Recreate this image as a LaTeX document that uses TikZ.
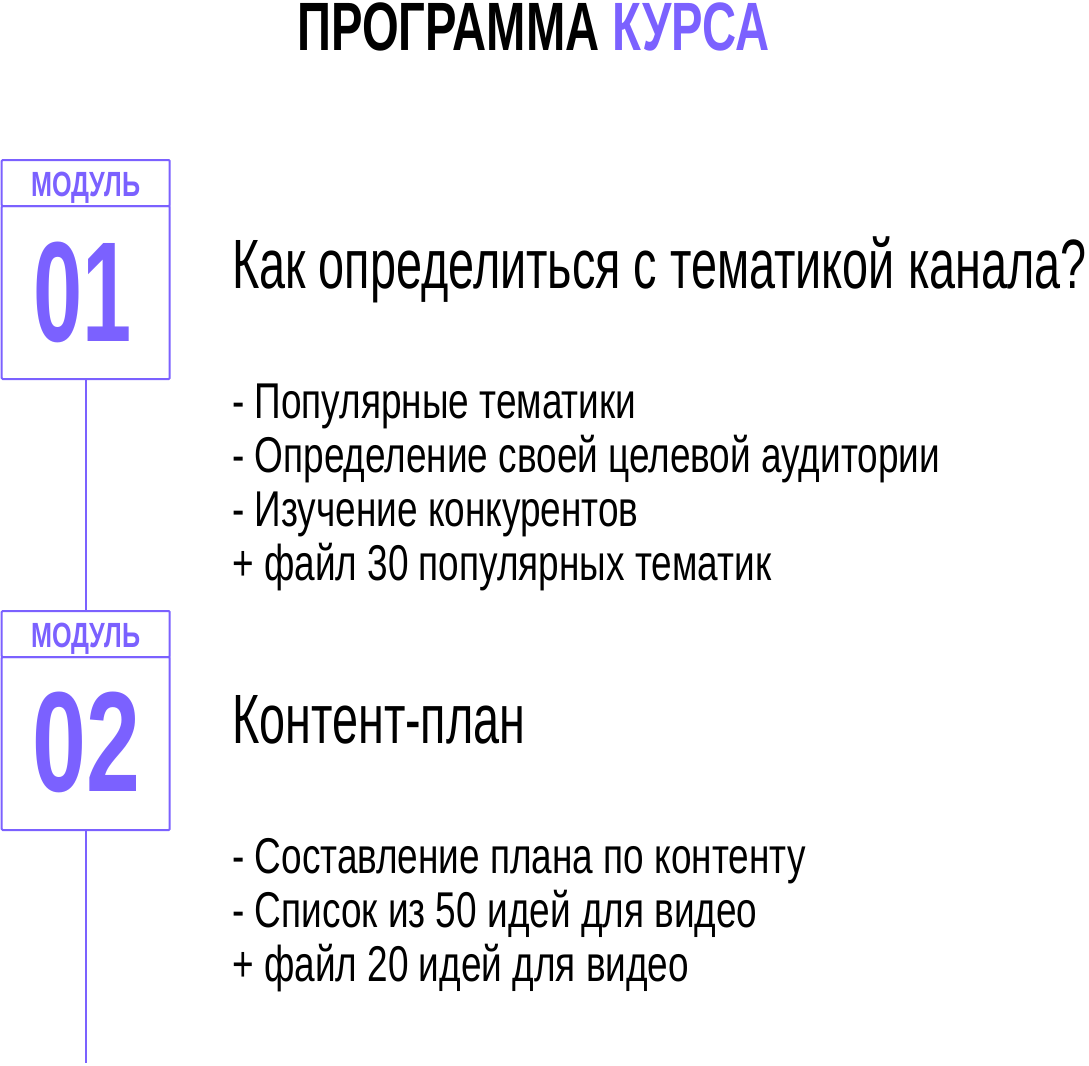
\documentclass[tikz,border=0pt]{standalone}
\usepackage{fontspec}
\setmainfont{Liberation Sans}
\newfontfamily\fTitle{Liberation Sans}[FakeStretch=0.69]
\newfontfamily\fHead{Liberation Sans}[FakeStretch=0.67]
\newfontfamily\fItem{Liberation Sans}[FakeStretch=0.735]
\newfontfamily\fLabel{Liberation Sans}[FakeStretch=0.72]
\newfontfamily\fNum{Liberation Sans}[FakeStretch=0.62]
\newfontfamily\fNumB{Liberation Sans}[FakeStretch=0.68]
\definecolor{accent}{RGB}{123,97,255}
\tikzset{
  frame/.style={draw=accent, line width=2pt, rounded corners=1pt, inner sep=0pt, minimum width=168pt},
  headbox/.style={frame, minimum height=46pt},
  bodybox/.style={frame, minimum height=173pt},
  conn/.style={draw=accent, line width=2pt},
  modlabel/.style={anchor=base, inner sep=0pt, text=accent, font=\fLabel\bfseries\fontsize{35}{36}\selectfont},
  modnum/.style={anchor=base, inner sep=0pt, text=accent, font=\fNum\bfseries\fontsize{142.5}{144}\selectfont},
  heading/.style={anchor=base west, inner sep=0pt, font=\fHead\fontsize{69.8}{72}\selectfont},
  item/.style={anchor=base west, inner sep=0pt, font=\fItem\fontsize{50.3}{54}\selectfont}
}
\begin{document}
\begin{tikzpicture}[x=1pt,y=-1pt]
\useasboundingbox (0,0) rectangle (1089,1065);
% title
\node[anchor=base west, inner sep=0pt, text height=49pt, text depth=0pt, font=\fTitle\bfseries\fontsize{68.4}{70}\selectfont] (title) at (297,51) {ПРОГРАММА \textcolor{accent}{КУРСА}};
% module 1
\node[headbox] (h1) at (85.7,183) {};
\node[bodybox] (b1) at (85.7,292.5) {};
\node[modlabel] (l1) at (86,196) {МОДУЛЬ};
\node[modnum] (n1) at (83,341) {01};
\node[heading] (t1) at (232,288) {Как определиться с тематикой канала?};
\node[item] (i11) at (232,418) {- Популярные тематики};
\node[item] (i12) at (232,472) {- Определение своей целевой аудитории};
\node[item] (i13) at (232,526) {- Изучение конкурентов};
\node[item] (i14) at (232,580) {+ файл 30 популярных тематик};
% module 2
\node[headbox] (h2) at (85.7,634) {};
\node[bodybox] (b2) at (85.7,743.5) {};
\node[modlabel] (l2) at (86,647) {МОДУЛЬ};
\node[modnum, font=\fNumB\bfseries\fontsize{142.5}{144}\selectfont] (n2) at (86.5,791) {02};
\node[heading] (t2) at (232,743) {Контент-план};
\node[item] (i21) at (232,873) {- Составление плана по контенту};
\node[item] (i22) at (232,927) {- Список из 50 идей для видео};
\node[item] (i23) at (232,981) {+ файл 20 идей для видео};
% connectors
\coordinate (tail) at (85.7,1063);
\draw[conn] (b1.south) -- (h2.north);
\draw[conn] (b2.south) -- (tail);
\end{tikzpicture}
\end{document}
